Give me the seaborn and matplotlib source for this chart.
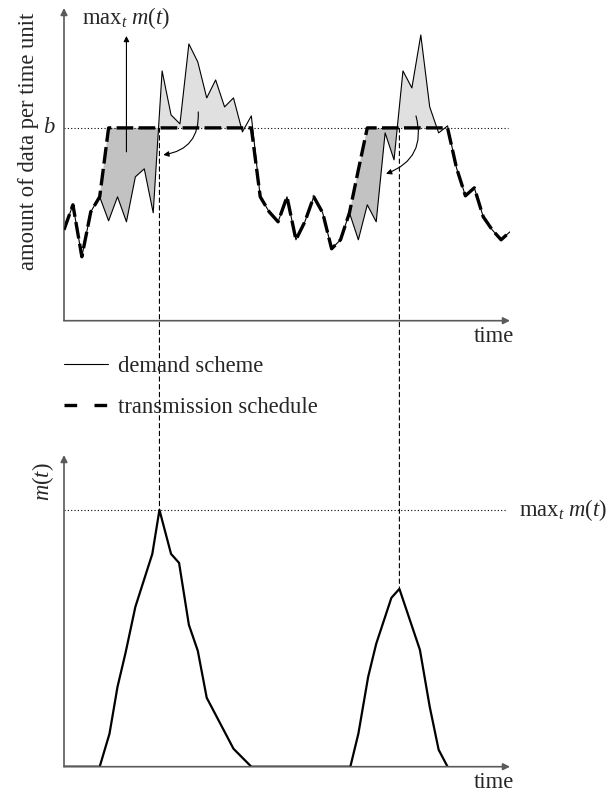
import numpy as np
import pandas as pd
import matplotlib
matplotlib.use("Agg")
import matplotlib.pyplot as plt
from matplotlib.patches import ConnectionPatch
from matplotlib.lines import Line2D
import seaborn as sns

# ---- data -------------------------------------------------------------
time_steps = list(range(51))
demand = [9.1, 11.6, 6.4, 10.9, 12.4, 10.0, 12.4, 9.9, 14.4, 15.2,
          10.8, 25.0, 20.6, 19.7, 27.7, 25.9, 22.3, 24.1, 21.4, 22.3,
          18.9, 20.5, 12.4, 10.9, 9.9, 12.4, 8.1, 9.9, 12.4, 10.8,
          7.2, 8.1, 10.8, 8.1, 11.6, 9.9, 18.8, 16.1, 25.0, 23.3,
          28.6, 21.4, 18.8, 19.5, 15.3, 12.5, 13.3, 10.4, 9.1, 8.1, 8.9]
bandwidth = 19.3
schedule = [9.1, 11.6, 6.4, 10.9, 12.4, 19.3, 19.3, 19.3, 19.3, 19.3,
            19.3, 19.3, 19.3, 19.3, 19.3, 19.3, 19.3, 19.3, 19.3, 19.3,
            19.3, 19.3, 12.4, 10.9, 9.9, 12.4, 8.1, 9.9, 12.4, 10.8,
            7.2, 8.1, 10.8, 15.1, 19.3, 19.3, 19.3, 19.3, 19.3, 19.3,
            19.3, 19.3, 19.3, 19.3, 15.3, 12.5, 13.3, 10.4, 9.1, 8.1, 8.9]

m_time = [0, 4.0, 5.1, 6.0, 6.9, 8.0, 9.9, 10.7, 12.0, 12.9, 14.0, 15.0,
          16.0, 19.0, 21.0, 32.1, 33.0, 34.1, 35.0, 36.7, 37.6, 39.9,
          41.0, 42.0, 43.0]
m_value = [0, 0, 3.3, 8.0, 11.4, 16.0, 21.3, 25.7, 21.3, 20.4, 14.2, 11.6,
           6.9, 1.8, 0, 0, 3.3, 9.0, 12.3, 16.9, 17.8, 11.7, 6.0, 1.7, 0]
peak_times = [10.7, 37.6]
peak_values = [25.7, 17.8]
max_m = 25.7

legend_labels = ["demand scheme", "transmission schedule"]

# ---- style ------------------------------------------------------------
sns.set_style("white")
plt.rcParams["font.family"] = ["Liberation Serif", "DejaVu Serif"]
plt.rcParams["mathtext.fontset"] = "custom"
plt.rcParams["mathtext.rm"] = "Liberation Serif"
plt.rcParams["mathtext.it"] = "Liberation Serif:italic"
FS = 16.3
AXIS_COLOR = "#5a5a5a"

W, H = 609, 795
fig = plt.figure(figsize=(W / 100, H / 100), dpi=100)


def px_axes(left, top, right, bottom):
    return fig.add_axes([left / W, 1 - bottom / H, (right - left) / W, (bottom - top) / H])


ax_top = px_axes(64, 8, 510, 320.7)
ax_bot = px_axes(64, 455, 510, 766.7)

df = pd.DataFrame({"time": time_steps, "demand": demand, "schedule": schedule})
dm = pd.DataFrame({"time": m_time, "m": m_value})

t = np.array(time_steps, dtype=float)
d = np.array(demand)
s = np.array(schedule)

# areas: data sent ahead of demand (dark) and demand above the bandwidth (light)
ax_top.fill_between(t, d, s, where=(s > d) & ((t <= 12) | ((t >= 31) & (t <= 39))),
                    interpolate=True, color="#c2c2c2", lw=0, zorder=1)
ax_top.fill_between(t, d, bandwidth,
                    where=(d > bandwidth) & (((t >= 9) & (t <= 20)) | ((t >= 36) & (t <= 42))),
                    interpolate=True, color="#e0e0e0", lw=0, zorder=1)

sns.lineplot(data=df, x="time", y="schedule", ax=ax_top, color="black", lw=2.4,
             errorbar=None, zorder=3)
ax_top.lines[-1].set_dashes([5, 1.6])
sns.lineplot(data=df, x="time", y="demand", ax=ax_top, color="black", lw=0.8,
             errorbar=None, zorder=4)

ax_top.axhline(bandwidth, xmax=49.8 / 50, color="black", lw=0.8, ls=(0, (1, 2)), zorder=2)

sns.lineplot(data=dm, x="time", y="m", ax=ax_bot, color="black", lw=1.6,
             errorbar=None, zorder=3)
ax_bot.axhline(max_m, xmax=49.5 / 50, color="black", lw=0.8, ls=(0, (1, 2)), zorder=2)

for ax, ytop in ((ax_top, 31.3), (ax_bot, 31.2)):
    ax.set_xlim(0, 50)
    ax.set_ylim(0, ytop)
    ax.set_xticks([])
    ax.set_yticks([])
    ax.set_xlabel("")
    ax.set_ylabel("")
    for sp in ax.spines.values():
        sp.set_visible(False)
    ax.patch.set_alpha(0)
    arrow = dict(arrowstyle="-|>", color=AXIS_COLOR, lw=1.2, mutation_scale=10,
                 shrinkA=0, shrinkB=0)
    ax.annotate("", xy=(1, 0), xytext=(0, 0), xycoords="axes fraction", arrowprops=arrow)
    ax.annotate("", xy=(0, 1), xytext=(0, 0), xycoords="axes fraction", arrowprops=arrow)
    ax.text(0.964, -0.052, "time", transform=ax.transAxes, ha="center", va="center",
            fontsize=FS)

# ---- annotations on the upper panel -----------------------------------
ax_top.text(-0.0807, 0.575, "amount of data per time unit", transform=ax_top.transAxes,
            rotation=90, ha="center", va="center", fontsize=FS)
ax_top.annotate("$b$", xy=(0, bandwidth), xytext=(-15, 0), textcoords="offset pixels",
                ha="center", va="center", fontsize=FS, annotation_clip=False)
ax_top.annotate("", xy=(7.0, 28.5), xytext=(7.0, 16.9),
                arrowprops=dict(arrowstyle="-|>", color="black", lw=0.8, mutation_scale=8,
                                shrinkA=0, shrinkB=0))
ax_top.text(7.0, 30.3, r"$\mathrm{max}_t\ m(t)$", ha="center", va="center", fontsize=FS)

for start, end in (((15.05, 20.9), (11.13, 16.6)), ((39.46, 20.5), (36.1, 14.7))):
    ax_top.annotate("", xy=end, xytext=start,
                    arrowprops=dict(arrowstyle="-|>", color="black", lw=0.8,
                                    mutation_scale=8, shrinkA=0, shrinkB=0,
                                    connectionstyle="arc3,rad=-0.45"), zorder=5)

# ---- annotations on the lower panel -----------------------------------
ax_bot.text(-0.047, 0.913, "$m(t)$", transform=ax_bot.transAxes, rotation=90,
            ha="center", va="center", fontsize=FS)
ax_bot.text(51.0, max_m, r"$\mathrm{max}_t\ m(t)$", ha="left", va="center",
            fontsize=FS, clip_on=False)

# dashed guides linking the peaks of m(t) to the upper panel
for pt, pv in zip(peak_times, peak_values):
    con = ConnectionPatch(xyA=(pt, bandwidth), coordsA=ax_top.transData,
                          xyB=(pt, pv), coordsB=ax_bot.transData,
                          color="black", lw=0.8, ls=(0, (4, 3)), zorder=0)
    fig.add_artist(con)

# ---- legend -----------------------------------------------------------
demand_handle = Line2D([], [], color="black", lw=0.8)
sched_handle = Line2D([], [], color="black", lw=2.4, dashes=[3.8, 5.2])
fig.legend(handles=[demand_handle, sched_handle], labels=legend_labels,
           loc="center left", bbox_to_anchor=(64 / W, 1 - 387 / H),
           frameon=False, fontsize=FS, handlelength=1.95, handletextpad=0.45,
           labelspacing=0.85, borderpad=0, borderaxespad=0)

fig.savefig("out.png", dpi=100)
